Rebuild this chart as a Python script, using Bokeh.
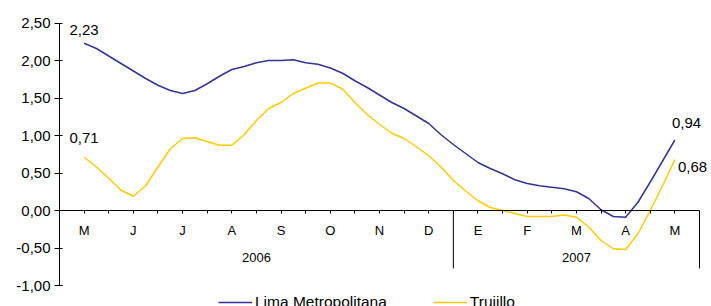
from bokeh.plotting import figure
from bokeh.models import Range1d, FixedTicker, Legend, LegendItem
from bokeh.core.properties import value
from bokeh.embed import file_html
from bokeh.resources import INLINE

# ---- data ----
months = ["M", "J", "J", "A", "S", "O", "N", "D", "E", "F", "M", "A", "M"]
years = ["2006"] * 8 + ["2007"] * 5
# readings every quarter month, starting at the centre of the first month
lima = [2.23, 2.16, 2.06, 1.96, 1.86, 1.76, 1.67, 1.60, 1.56, 1.60, 1.69, 1.79,
        1.88, 1.92, 1.97, 2.00, 2.00, 2.01, 1.97, 1.95, 1.90, 1.83, 1.73, 1.64,
        1.54, 1.44, 1.36, 1.26, 1.16, 1.01, 0.88, 0.76, 0.64, 0.56, 0.49, 0.41,
        0.36, 0.33, 0.31, 0.29, 0.25, 0.16, 0.01, -0.08, -0.09, 0.11, 0.38, 0.66,
        0.94]
trujillo = [0.71, 0.58, 0.43, 0.27, 0.19, 0.33, 0.58, 0.82, 0.96, 0.97, 0.92, 0.87,
            0.87, 1.01, 1.20, 1.36, 1.44, 1.56, 1.63, 1.70, 1.70, 1.62, 1.44, 1.28,
            1.15, 1.03, 0.96, 0.85, 0.73, 0.58, 0.40, 0.26, 0.13, 0.04, 0.00, -0.04,
            -0.08, -0.08, -0.08, -0.06, -0.09, -0.22, -0.40, -0.51, -0.52, -0.31, 0.00, 0.33,
            0.68]
y_ticks = [-1.0, -0.5, 0.0, 0.5, 1.0, 1.5, 2.0, 2.5]

FONT = "Liberation Sans"
BLUE = "#333399"
YELLOW = "#FFCC00"

def fmt(v):
    return f"{v:.2f}".replace(".", ",")

n = len(months)
x_pos = [0.5 + i / 4 for i in range(len(lima))]
tick_pos = [0.5 + i / 2 for i in range(2 * n - 1)]

p = figure(width=711, height=306, output_backend="svg", toolbar_location=None,
           x_range=Range1d(0, n + 12 / 49.23), y_range=Range1d(-1.28, 2.80),
           min_border_left=59, min_border_right=0, min_border_top=0, min_border_bottom=0)
p.grid.visible = False
p.outline_line_color = None

# x axis at y = 0
xa = p.xaxis[0]
xa.fixed_location = 0
xa.bounds = (0, n)
xa.ticker = FixedTicker(ticks=tick_pos)
overrides = {}
for t in tick_pos:
    k = t - 0.5
    overrides[t] = months[int(k)] if abs(k - round(k)) < 1e-9 else ""
xa.major_label_overrides = overrides
xa.major_tick_in = 0
xa.major_tick_out = 3
xa.minor_tick_line_color = None
xa.major_label_standoff = 9
xa.major_label_text_font = FONT
xa.major_label_text_font_size = "13px"
xa.major_label_text_color = "black"
xa.axis_line_color = "black"
xa.major_tick_line_color = "black"

ya = p.yaxis[0]
ya.bounds = (y_ticks[0], y_ticks[-1])
ya.ticker = FixedTicker(ticks=y_ticks)
ya.major_label_overrides = {t: fmt(t) for t in y_ticks}
ya.major_tick_out = 5
ya.major_tick_in = 3
ya.minor_tick_line_color = None
ya.major_label_standoff = 4
ya.major_label_text_font = FONT
ya.major_label_text_font_size = "15px"
ya.major_label_text_color = "black"
ya.axis_line_color = "black"
ya.major_tick_line_color = "black"

# year group separators and labels
groups = []
for yname in years:
    if not groups or groups[-1][0] != yname:
        groups.append([yname, 0])
    groups[-1][1] += 1
bounds = []
centers = []
start = 0
for yname, cnt in groups:
    centers.append(start + cnt / 2)
    start += cnt
    bounds.append(start)
p.segment(x0=bounds, y0=[0] * len(bounds), x1=bounds, y1=[-0.773] * len(bounds),
          line_color="black", line_width=1)
p.text(x=centers, y=[-0.627] * len(centers), text=[g[0] for g in groups],
       text_align="center", text_baseline="middle", text_font=value(FONT),
       text_font_size=value("13px"), text_color="black")

r1 = p.line(x_pos, lima, line_color=BLUE, line_width=1.5)
r2 = p.line(x_pos, trujillo, line_color=YELLOW, line_width=1.5)

def label(x, y, align, xo, yo):
    p.text(x=[x], y=[y], text=[fmt(y)], text_align=align, text_baseline="middle",
           x_offset=xo, y_offset=yo, text_font=value(FONT),
           text_font_size=value("15px"), text_color="black")

label(x_pos[0], lima[0], "center", 0, -13)
label(x_pos[0], trujillo[0], "center", 0, -19)
label(x_pos[-1], lima[-1], "left", -3, -17)
label(x_pos[-1], trujillo[-1], "left", 3, 7)

legend = Legend(items=[LegendItem(label="Lima Metropolitana", renderers=[r1]),
                       LegendItem(label="Trujillo", renderers=[r2])],
                orientation="horizontal", location=(159, -10),
                glyph_width=34, glyph_height=28, label_height=20,
                label_standoff=3, spacing=46, padding=0, margin=0,
                border_line_color=None, background_fill_alpha=0,
                label_text_font=FONT, label_text_font_size="15.5px",
                label_text_color="black")
p.add_layout(legend)

open("out.html", "w").write(file_html(p, INLINE))
